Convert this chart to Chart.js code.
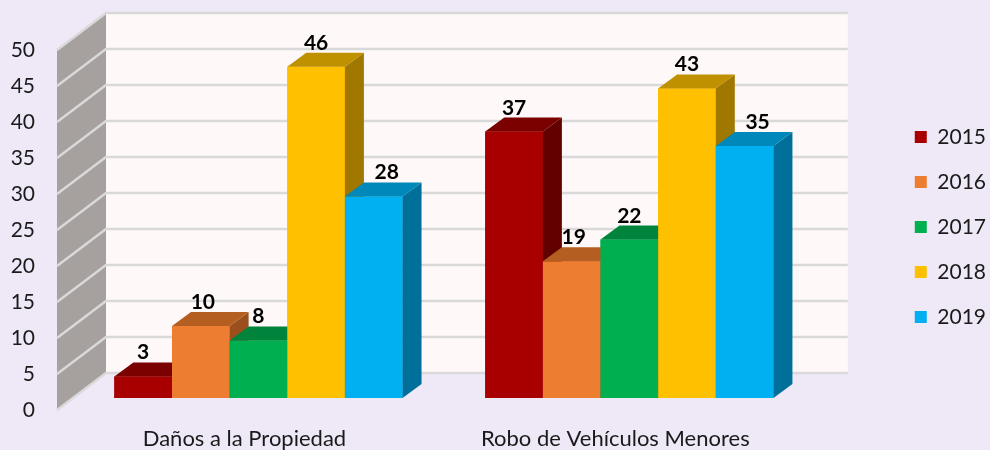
<!DOCTYPE html>
<html>
<head>
<meta charset="utf-8">
<title>Daños a la Propiedad / Robo de Vehículos Menores</title>
<script src="https://cdn.jsdelivr.net/npm/chart.js@4.4.1/dist/chart.umd.min.js"></script>
<style>
  html, body { margin: 0; padding: 0; background: #EFE8F6; }
</style>
</head>
<body>
<canvas id="crimeChart" width="990" height="450"></canvas>
<script>
// --- data ---
const categories = ["Daños a la Propiedad", "Robo de Vehículos Menores"];
const years = ["2015", "2016", "2017", "2018", "2019"];
const values2015 = [3, 37];
const values2016 = [10, 19];
const values2017 = [8, 22];
const values2018 = [46, 43];
const values2019 = [28, 35];
const yTicks = [0, 5, 10, 15, 20, 25, 30, 35, 40, 45, 50];

// --- look ---
const frontColors = ["#A80000", "#ED7D31", "#00B050", "#FFC000", "#00B0F0"];
const topColors   = ["#7B0000", "#B55E22", "#00843C", "#BF9000", "#0088BA"];
const sideColors  = ["#620000", "#9A4F1C", "#006B30", "#A07800", "#006F99"];
const labelNudge  = [0, 2, 0, 0, 13];

const FONT = "Lato, 'Open Sans', sans-serif";
const BAR_DX = 19, BAR_DY = -14;     // bar depth
const BACK_DX = 33, BACK_DY = -25;   // back wall vs bar plane
const FRONT_DX = -16, FRONT_DY = 12; // front edge of the side wall

Chart.defaults.font.family = FONT;
Chart.defaults.color = "#1a1a1a";

const seriesValues = [values2015, values2016, values2017, values2018, values2019];

// draws the walls, the 3D faces of the bars and the value labels
const depth3d = {
    id: "depth3d",
    beforeDatasetsDraw(chart) {
        const { ctx, chartArea: a, scales: { y } } = chart;
        const yTop = y.getPixelForValue(y.max);
        const yBottom = y.getPixelForValue(y.min);
        ctx.save();

        // back wall
        ctx.fillStyle = "#FEF9F8";
        ctx.fillRect(a.left + BACK_DX, yTop + BACK_DY, a.right - a.left, yBottom - yTop);

        // side wall
        ctx.fillStyle = "#A6A09F";
        ctx.beginPath();
        ctx.moveTo(a.left + FRONT_DX, yTop + FRONT_DY);
        ctx.lineTo(a.left + BACK_DX, yTop + BACK_DY);
        ctx.lineTo(a.left + BACK_DX, yBottom + BACK_DY);
        ctx.lineTo(a.left + FRONT_DX, yBottom + FRONT_DY);
        ctx.closePath();
        ctx.fill();

        // grid lines on both walls
        ctx.strokeStyle = "#D9D9D9";
        ctx.lineWidth = 2.5;
        y.ticks.forEach(t => {
            const py = y.getPixelForValue(t.value);
            ctx.beginPath();
            ctx.moveTo(a.left + FRONT_DX, py + FRONT_DY);
            ctx.lineTo(a.left + BACK_DX, py + BACK_DY);
            ctx.lineTo(a.right + BACK_DX, py + BACK_DY);
            ctx.stroke();
        });
        ctx.restore();
    },
    afterDatasetsDraw(chart) {
        const { ctx } = chart;
        ctx.save();
        // left to right: front, then side and top, so the next bar covers it
        chart.data.datasets.forEach((ds, i) => {
            const meta = chart.getDatasetMeta(i);
            meta.data.forEach(bar => {
                const { x, y, base, width } = bar.getProps(["x", "y", "base", "width"], true);
                const l = x - width / 2, r = x + width / 2;
                bar.draw(ctx);
                ctx.fillStyle = sideColors[i];
                ctx.beginPath();
                ctx.moveTo(r, y);
                ctx.lineTo(r + BAR_DX, y + BAR_DY);
                ctx.lineTo(r + BAR_DX, base + BAR_DY);
                ctx.lineTo(r, base);
                ctx.closePath();
                ctx.fill();
                ctx.fillStyle = topColors[i];
                ctx.beginPath();
                ctx.moveTo(l, y);
                ctx.lineTo(l + BAR_DX, y + BAR_DY);
                ctx.lineTo(r + BAR_DX, y + BAR_DY);
                ctx.lineTo(r, y);
                ctx.closePath();
                ctx.fill();
            });
        });

        // value labels
        ctx.fillStyle = "#000";
        ctx.font = "bold 21px " + FONT;
        ctx.textAlign = "center";
        ctx.textBaseline = "alphabetic";
        chart.data.datasets.forEach((ds, i) => {
            chart.getDatasetMeta(i).data.forEach((bar, j) => {
                const { x, y } = bar.getProps(["x", "y"], true);
                ctx.fillText(String(ds.data[j]), x + labelNudge[i], y + BAR_DY - 3);
            });
        });
        ctx.restore();
    }
};

const ctx = document.getElementById("crimeChart").getContext("2d");
new Chart(ctx, {
    type: "bar",
    data: {
        labels: categories,
        datasets: years.map((yr, i) => ({
            label: yr,
            data: seriesValues[i],
            backgroundColor: frontColors[i],
            borderWidth: 0
        }))
    },
    options: {
        responsive: false,
        animation: false,
        layout: { padding: { top: 38, right: -6, bottom: 0, left: 0 } },
        datasets: { bar: { categoryPercentage: 0.777, barPercentage: 1.0 } },
        scales: {
            x: {
                grid: { display: false, drawTicks: false },
                border: { display: false },
                ticks: { font: { size: 22 }, padding: 28, labelOffset: -14, color: "#1a1a1a" },
                afterFit: s => { s.height = 52; }
            },
            y: {
                min: 0,
                max: 50,
                afterBuildTicks: s => { s.ticks = yTicks.map(v => ({ value: v })); },
                grid: { display: false, drawTicks: true, tickLength: 38 },
                border: { display: false },
                ticks: { font: { size: 21 }, padding: 0, labelOffset: 12, color: "#1a1a1a" },
                afterFit: s => { s.width = 73; }
            },
            gap: {
                type: "linear",
                position: "right",
                grid: { display: false, drawTicks: false },
                border: { display: false },
                ticks: { display: false },
                afterFit: s => { s.width = 76; }
            }
        },
        plugins: {
            legend: {
                position: "right",
                fullSize: false,
                title: { display: true, text: " ", font: { size: 10 }, padding: 3 },
                labels: {
                    boxWidth: 12,
                    boxHeight: 12,
                    padding: 24,
                    font: { size: 21 },
                    color: "#1a1a1a"
                }
            },
            tooltip: { enabled: false }
        }
    },
    plugins: [depth3d]
});
</script>
</body>
</html>
